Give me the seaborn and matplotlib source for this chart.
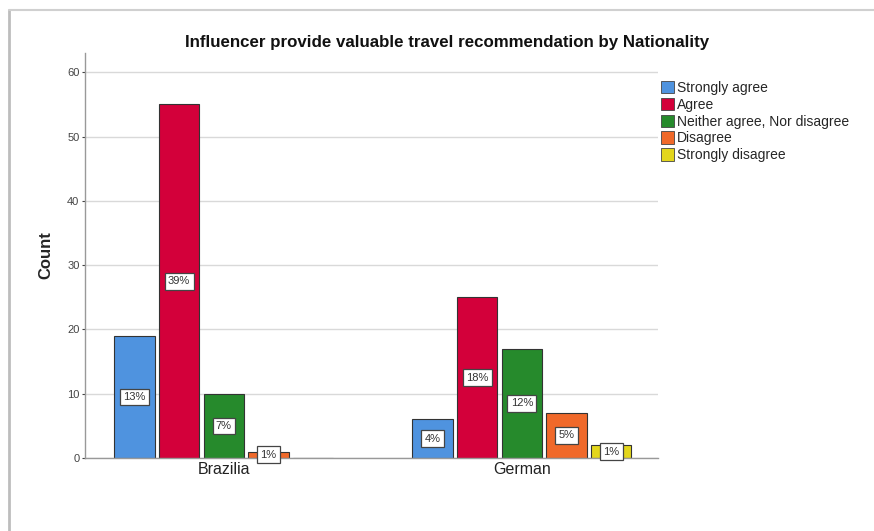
import matplotlib
matplotlib.use("Agg")
import matplotlib.pyplot as plt
import seaborn as sns
import pandas as pd
from matplotlib.lines import Line2D
from matplotlib.patches import Patch

# Survey responses: "Influencer provide valuable travel recommendation", split by nationality
nationalities = ["Brazilia", "German"]
responses = ["Strongly agree", "Agree", "Neither agree, Nor disagree",
             "Disagree", "Strongly disagree"]
brazilia_counts = [19, 55, 10, 1, 0]
german_counts = [6, 25, 17, 7, 2]
colors = ["#4f93df", "#d3003a", "#268a2c", "#f0692a", "#e3d61c"]

rows = []
for nat, counts in zip(nationalities, [brazilia_counts, german_counts]):
    for resp, c in zip(responses, counts):
        rows.append({"Nationality": nat, "Response": resp, "Count": c})
df = pd.DataFrame(rows)
total = df["Count"].sum()

sns.set_theme(style="white")
plt.rcParams["font.family"] = ["Liberation Sans", "DejaVu Sans"]

fig = plt.figure(figsize=(8.74, 5.31), dpi=100)
ax = fig.add_axes([85 / 874, 1 - 458 / 531, (658 - 85) / 874, (458 - 53) / 531])

sns.barplot(data=df, x="Nationality", y="Count", hue="Response",
            order=nationalities, hue_order=responses, palette=colors,
            width=0.75, gap=0.1, edgecolor="#333333", linewidth=0.8,
            saturation=1, legend=False, ax=ax)

# Percentage-of-total labels in boxed tags at half bar height
for container, resp in zip(ax.containers, responses):
    for bar, nat in zip(container, nationalities):
        h = bar.get_height()
        if h <= 0:
            continue
        pct = round(h / total * 100)
        ax.text(bar.get_x() + bar.get_width() / 2, h / 2, f"{pct}%",
                ha="center", va="center", fontsize=8, color="#333333",
                bbox=dict(boxstyle="square,pad=0.3", fc="white",
                          ec="#444444", lw=0.9))

ax.set_xlim(-0.466, 1.457)
ax.set_ylim(0, 63)
ax.set_yticks(range(0, 61, 10))
ax.yaxis.grid(True, color="#d9d9d9", lw=1)
ax.set_axisbelow(True)
for side in ["top", "right"]:
    ax.spines[side].set_visible(False)
for side in ["left", "bottom"]:
    ax.spines[side].set_color("#999999")
    ax.spines[side].set_linewidth(1)
ax.tick_params(axis="y", labelsize=8, colors="#444444", length=2, width=0.8,
               left=True, pad=2)
ax.tick_params(axis="x", labelsize=11.5, colors="#222222", length=0, pad=3)
for lbl in ax.get_xticklabels():
    lbl.set_fontstretch("expanded")
ax.set_xlabel("")
ax.set_ylabel("Count", fontsize=12, fontweight="bold", labelpad=10)

fig.text((178 + 716) / 2 / 874, 1 - 42 / 531,
         "Influencer provide valuable travel recommendation by Nationality",
         ha="center", va="center", fontsize=12.2, fontweight="bold",
         color="#111111")

handles = [Patch(facecolor=c, edgecolor="#444444", lw=0.6) for c in colors]
fig.legend(handles, responses, loc="upper left",
           bbox_to_anchor=(661 / 874, 1 - 81 / 531), frameon=False,
           fontsize=10, handlelength=0.9, handleheight=1.0,
           handletextpad=0.25, labelspacing=0.2, borderaxespad=0,
           borderpad=0)

# Window frame around the chart
fig.add_artist(Line2D([9 / 874, 9 / 874], [0, 1 - 10 / 531],
                      transform=fig.transFigure, color="#bdbdbd", lw=2))
fig.add_artist(Line2D([9 / 874, 1], [1 - 10 / 531, 1 - 10 / 531],
                      transform=fig.transFigure, color="#d0d0d0", lw=1.5))

fig.savefig("out.png", dpi=100)
